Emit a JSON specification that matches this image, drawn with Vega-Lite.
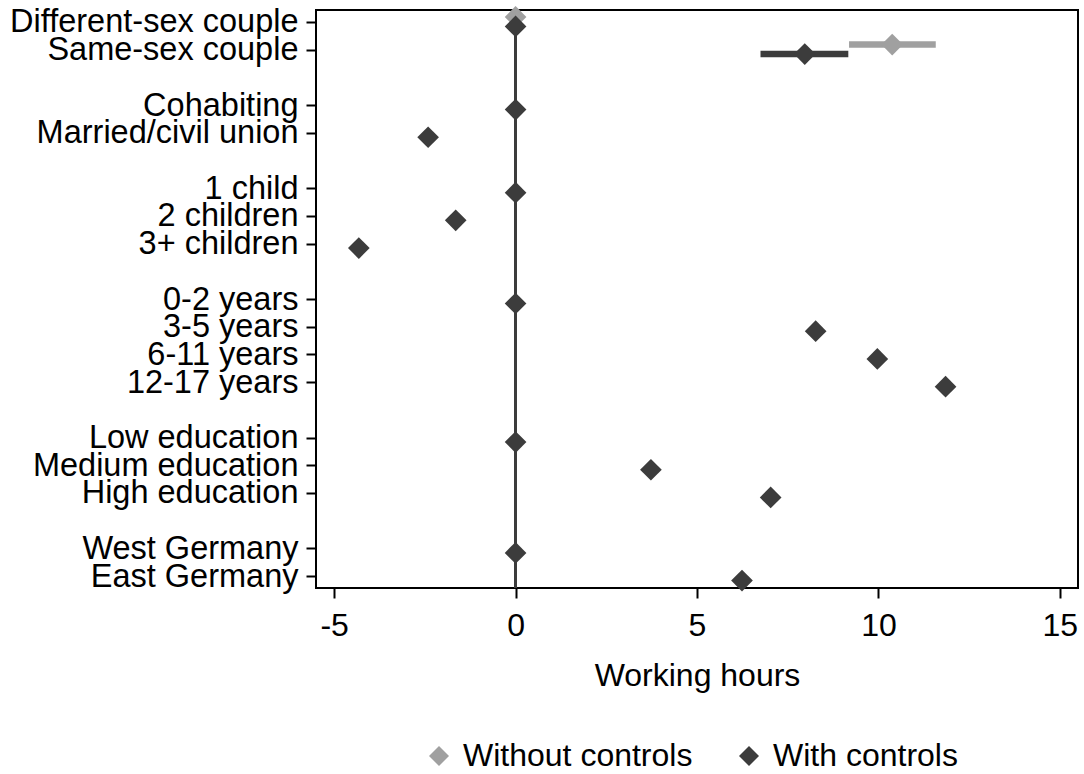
{
  "$schema": "https://vega.github.io/schema/vega-lite/v6.json",
  "autosize": "none",
  "width": 762,
  "height": 578,
  "padding": {"left": 316, "top": 10, "right": 6, "bottom": 186},
  "background": "white",
  "config": {
    "font": "Liberation Sans",
    "view": {"stroke": "black", "strokeWidth": 2},
    "axis": {"grid": false, "domain": false, "tickColor": "black", "tickWidth": 2, "tickSize": 10, "labelFont": "Liberation Sans", "titleFont": "Liberation Sans", "labelFontSize": 32, "titleFontSize": 32, "labelColor": "black", "titleColor": "black", "titleFontWeight": "normal", "labelLimit": 0}
  },
  "data": {
    "values": [
      {"category": "Different-sex couple", "series": "Without controls", "estimate": 0, "lower": null, "upper": null},
      {"category": "Same-sex couple", "series": "Without controls", "estimate": 10.38, "lower": 9.19, "upper": 11.58},
      {"category": "Different-sex couple", "series": "With controls", "estimate": 0, "lower": null, "upper": null},
      {"category": "Same-sex couple", "series": "With controls", "estimate": 7.97, "lower": 6.75, "upper": 9.17},
      {"category": "Cohabiting", "series": "With controls", "estimate": 0, "lower": null, "upper": null},
      {"category": "Married/civil union", "series": "With controls", "estimate": -2.41, "lower": null, "upper": null},
      {"category": "1 child", "series": "With controls", "estimate": 0, "lower": null, "upper": null},
      {"category": "2 children", "series": "With controls", "estimate": -1.65, "lower": null, "upper": null},
      {"category": "3+ children", "series": "With controls", "estimate": -4.32, "lower": null, "upper": null},
      {"category": "0-2 years", "series": "With controls", "estimate": 0, "lower": null, "upper": null},
      {"category": "3-5 years", "series": "With controls", "estimate": 8.27, "lower": null, "upper": null},
      {"category": "6-11 years", "series": "With controls", "estimate": 9.97, "lower": null, "upper": null},
      {"category": "12-17 years", "series": "With controls", "estimate": 11.85, "lower": null, "upper": null},
      {"category": "Low education", "series": "With controls", "estimate": 0, "lower": null, "upper": null},
      {"category": "Medium education", "series": "With controls", "estimate": 3.73, "lower": null, "upper": null},
      {"category": "High education", "series": "With controls", "estimate": 7.03, "lower": null, "upper": null},
      {"category": "West Germany", "series": "With controls", "estimate": 0, "lower": null, "upper": null},
      {"category": "East Germany", "series": "With controls", "estimate": 6.24, "lower": null, "upper": null}
    ]
  },
  "encoding": {
    "y": {
      "field": "category",
      "type": "nominal",
      "title": null,
      "scale": {
        "type": "point",
        "padding": 0.43,
        "domain": ["Different-sex couple", "Same-sex couple", " ", "Cohabiting", "Married/civil union", "  ", "1 child", "2 children", "3+ children", "   ", "0-2 years", "3-5 years", "6-11 years", "12-17 years", "    ", "Low education", "Medium education", "High education", "     ", "West Germany", "East Germany"]
      },
      "axis": {
        "values": ["Different-sex couple", "Same-sex couple", "Cohabiting", "Married/civil union", "1 child", "2 children", "3+ children", "0-2 years", "3-5 years", "6-11 years", "12-17 years", "Low education", "Medium education", "High education", "West Germany", "East Germany"],
        "labelPadding": 8,
        "labelBaseline": "middle",
        "labelFontSize": 32.5,
        "labelLimit": 0
      }
    },
    "color": {
      "field": "series",
      "type": "nominal",
      "scale": {"domain": ["Without controls", "With controls"], "range": ["#a0a0a0", "#3c3c3c"]},
      "legend": {
        "title": null,
        "orient": "none",
        "direction": "horizontal",
        "legendX": 107,
        "legendY": 730,
        "symbolType": "diamond",
        "symbolSize": 400,
        "symbolStrokeWidth": 0,
        "labelFontSize": 32,
        "labelFont": "Liberation Sans",
        "labelColor": "black",
        "labelLimit": 0,
        "labelOffset": 8,
        "columnPadding": 40
      }
    }
  },
  "layer": [
    {
      "mark": {"type": "rule", "color": "#3c3c3c", "strokeWidth": 2.5},
      "encoding": {
        "x": {"datum": 0, "type": "quantitative"},
        "y": null,
        "color": null
      }
    },
    {
      "mark": {"type": "rule", "strokeWidth": 6.5, "strokeCap": "butt", "yOffset": {"expr": "datum.series === 'Without controls' ? -5 : 4.5"}},
      "transform": [{"filter": "isValid(datum.lower)"}],
      "encoding": {
        "x": {"field": "lower", "type": "quantitative"},
        "x2": {"field": "upper"}
      }
    },
    {
      "mark": {"type": "point", "shape": "diamond", "filled": true, "opacity": 1, "size": 470, "strokeWidth": 0, "yOffset": {"expr": "datum.series === 'Without controls' ? -5 : 4.5"}},
      "encoding": {
        "x": {
          "field": "estimate",
          "type": "quantitative",
          "title": "Working hours",
          "scale": {"domain": [-5.5, 15.5], "nice": false, "zero": false},
          "axis": {"values": [-5, 0, 5, 10, 15], "labelExpr": "datum.value < 0 ? '-' + abs(datum.value) : '' + datum.value", "labelPadding": 12, "titlePadding": 19, "labelFlush": false}
        },
        "order": {"field": "series", "sort": "descending"}
      }
    }
  ]
}
